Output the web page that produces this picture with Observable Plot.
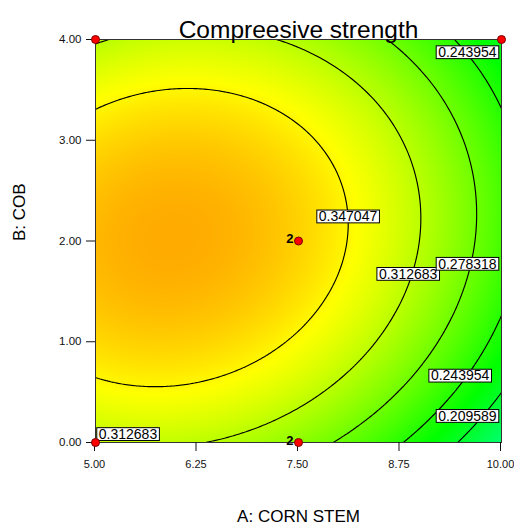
<!DOCTYPE html>
<html><head><meta charset="utf-8">
<script src="https://cdn.jsdelivr.net/npm/d3@7"></script>
<script src="https://cdn.jsdelivr.net/npm/@observablehq/plot@0.6"></script>
<style>body{margin:0;background:#fff} #chart{width:514px;height:532px}</style>
</head><body><div id="chart"></div>
<script>
// Axis ticks
const A_ticks = [5, 6.25, 7.5, 8.75, 10];
const B_ticks = [0, 1, 2, 3, 4];
// Contour levels shown on the chart
const levels = [0.209589, 0.243954, 0.278318, 0.312683, 0.347047];
// Quadratic response-surface coefficients (coded factors)
const termNames = ["Intercept", "A", "B", "AB", "A^2", "B^2"];
const termCoefs = [0.36354, -0.05793, 0.008407, 0.00996, -0.04613, -0.06389];
// Design points
const designA = [5, 10, 5, 7.5, 7.5];
const designB = [4, 4, 0, 0, 2];
const designReps = [1, 1, 1, 2, 2];
// Contour label anchors
const labelLevels = [0.243954, 0.347047, 0.312683, 0.278318, 0.243954, 0.209589, 0.312683];
const labelA = [9.58, 8.11, 8.85, 9.58, 9.49, 9.58, 5.40];
const labelB = [3.87, 2.24, 1.67, 1.77, 0.66, 0.26, 0.08];
// Colour ramp stops (response values)
const colorStops = [-0.003, 0.1125, 0.228, 0.3435, 0.459];
const colorRange = ["blue", "cyan", "lime", "yellow", "red"];

function model(A, B) {
  const a = (A - 7.5) / 2.5, b = (B - 2) / 2;
  const [c0, cA, cB, cAB, cAA, cBB] = termCoefs;
  return c0 + cA * a + cB * b + cAB * a * b + cAA * a * a + cBB * b * b;
}

const design = designA.map((a, i) => ({A: a, B: designB[i], reps: designReps[i]}));
const labels = labelLevels.map((v, i) => ({v, A: labelA[i], B: labelB[i]}));

const chart = Plot.plot({
  width: 514, height: 532,
  marginLeft: 95, marginRight: 13, marginTop: 39, marginBottom: 90,
  style: {fontFamily: "'Liberation Sans', Arial, sans-serif", fontSize: "11px", background: "white", color: "#111"},
  x: {domain: [5, 10]},
  y: {domain: [0, 4]},
  color: {type: "linear", domain: colorStops, range: colorRange, interpolate: "rgb"},
  marks: [
    Plot.raster({fill: model, x1: 5, x2: 10, y1: 0, y2: 4, pixelSize: 1}),
    Plot.contour({value: model, x1: 4.8, x2: 10.2, y1: -0.2, y2: 4.2, thresholds: levels,
      stroke: "black", fill: "none", strokeWidth: 1.15, clip: true}),
    Plot.frame({stroke: "#333"}),
    Plot.axisX({ticks: A_ticks, tickFormat: d => d.toFixed(2), tickSize: 9, tickPadding: 9, fontSize: 11, dx: -1, label: null}),
    Plot.axisY({ticks: B_ticks, tickFormat: d => d.toFixed(2), tickSize: 9, tickPadding: 5, fontSize: 11.5, label: null}),
    Plot.text(labels, {x: "A", y: "B", text: d => d.v.toFixed(6), fontSize: 14, fill: "black", clip: true}),
    Plot.dot(design, {x: "A", y: "B", r: 4, fill: "#ff0000", stroke: "#700", strokeWidth: 1}),
    Plot.text(design.filter(d => d.reps > 1), {x: "A", y: "B", text: d => String(d.reps),
      dx: -5, dy: -2, textAnchor: "end", fontSize: 13, fontWeight: "bold", fill: "black"}),
    Plot.text(["Compreesive strength"], {frameAnchor: "top", dy: -19, fontSize: 24.5, fill: "black"}),
    Plot.text(["A: CORN STEM"], {frameAnchor: "bottom", dy: 79, fontSize: 17, fill: "black"}),
    Plot.text(["B: COB"], {frameAnchor: "left", dx: -76, rotate: -90, fontSize: 17, fill: "black"})
  ]
});
document.getElementById("chart").append(chart);

// white boxes behind contour labels
Array.from(chart.querySelectorAll("text"))
  .filter(t => /^0\.\d{6}$/.test(t.textContent.trim()))
  .forEach(t => {
    const bb = t.getBBox();
    const base = bb.y + bb.height * 0.81;
    const r = document.createElementNS("http://www.w3.org/2000/svg", "rect");
    r.setAttribute("x", bb.x - 2);
    r.setAttribute("y", base - 11.2);
    r.setAttribute("width", bb.width + 4);
    r.setAttribute("height", 12.8);
    r.setAttribute("fill", "white");
    r.setAttribute("stroke", "black");
    r.setAttribute("stroke-width", 1);
    const tr = t.getAttribute("transform");
    if (tr) r.setAttribute("transform", tr);
    t.parentNode.insertBefore(r, t);
  });
</script>
</body></html>
